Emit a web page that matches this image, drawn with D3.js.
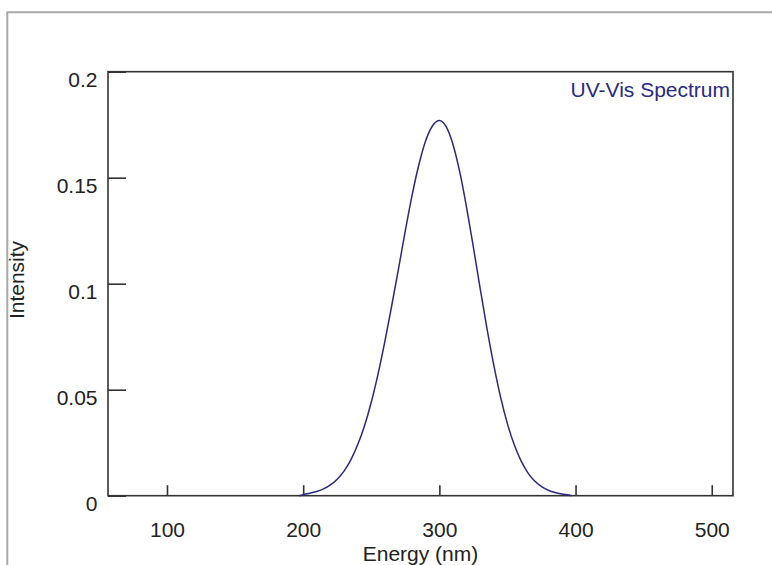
<!DOCTYPE html>
<html>
<head>
<meta charset="utf-8">
<script src="https://cdn.jsdelivr.net/npm/d3@7"></script>
<style>
  html, body { margin: 0; padding: 0; background: #fff; }
  svg { display: block; }
  text { font-family: "Liberation Sans", Arial, sans-serif; }
</style>
</head>
<body>
<svg id="chart" width="772" height="565"></svg>
<script>
// ---- data ----
const wavelength = [197, 200, 205, 210, 215, 220, 225, 230, 235, 240, 245, 250, 255, 260, 265, 270, 275, 280, 285, 290, 295, 300,
                    305, 310, 315, 320, 325, 330, 335, 340, 345, 350, 355, 360, 365, 370, 375, 380, 385, 390, 395, 397];
const intensity  = [0, 0.0005, 0.0012, 0.0020, 0.0032, 0.0051, 0.0078, 0.0116, 0.0169, 0.0240, 0.0329, 0.0441, 0.0575, 0.0728, 0.0896, 0.1070, 0.1250, 0.1418, 0.1562, 0.1675, 0.1745, 0.1770,
                    0.1741, 0.1657, 0.1526, 0.1359, 0.1171, 0.0976, 0.0787, 0.0615, 0.0464, 0.0339, 0.0240, 0.0164, 0.0108, 0.0069, 0.0043, 0.0026, 0.0015, 0.0008, 0.0003, 0];
const xTicks = [100, 200, 300, 400, 500];
const yTicks = [0, 0.05, 0.1, 0.15, 0.2];
const xDomain = [56.7, 515.6];
const yDomain = [0, 0.2];
const title = "UV-Vis Spectrum";
const xLabel = "Energy (nm)";
const yLabel = "Intensity";

const svg = d3.select("#chart");
const frame = {left: 108, right: 733, top: 71.7, bottom: 495.7};
const fontSize = "21px";

// outer gray border
svg.append("path")
  .attr("d", `M7.3,565 V12.3 H772`)
  .attr("fill", "none")
  .attr("stroke", "#a8a8a8")
  .attr("stroke-width", 2);

const x = d3.scaleLinear().domain(xDomain).range([frame.left, frame.right]);
const y = d3.scaleLinear().domain(yDomain).range([frame.bottom, frame.top]);

const axisColor = "#333";

// frame box
svg.append("rect")
  .attr("x", frame.left).attr("y", frame.top)
  .attr("width", frame.right - frame.left)
  .attr("height", frame.bottom - frame.top)
  .attr("fill", "none")
  .attr("stroke", axisColor)
  .attr("stroke-width", 1.6);

// x axis (ticks pointing inward)
const xAxis = d3.axisBottom(x).tickValues(xTicks).tickSizeInner(-10.5).tickSizeOuter(0).tickFormat(d3.format("d"));
const gx = svg.append("g").attr("transform", `translate(0,${frame.bottom})`).call(xAxis);
gx.select(".domain").remove();
gx.selectAll(".tick line").attr("stroke", axisColor).attr("stroke-width", 1.6);
gx.selectAll(".tick text")
  .attr("y", 41.5).attr("dy", 0)
  .attr("fill", "#222")
  .style("font-size", fontSize)
  .style("font-family", "'Liberation Sans', Arial, sans-serif");

// y axis (ticks pointing inward)
const yAxis = d3.axisLeft(y).tickValues(yTicks).tickSizeInner(-18).tickSizeOuter(0).tickFormat(d => d3.format("~g")(d));
const gy = svg.append("g").attr("transform", `translate(${frame.left},0)`).call(yAxis);
gy.select(".domain").remove();
gy.selectAll(".tick line").attr("stroke", axisColor).attr("stroke-width", 1.6);
gy.selectAll(".tick text")
  .attr("x", -10.5).attr("dy", 0).attr("y", 14.5)
  .attr("text-anchor", "end")
  .attr("fill", "#222")
  .style("font-size", fontSize)
  .style("font-family", "'Liberation Sans', Arial, sans-serif");

// spectrum line
const line = d3.line()
  .x((d, i) => x(wavelength[i]))
  .y((d, i) => y(intensity[i]))
  .curve(d3.curveMonotoneX);
svg.append("path")
  .datum(intensity)
  .attr("d", line)
  .attr("fill", "none")
  .attr("stroke", "#2a2a7c")
  .attr("stroke-width", 1.5);

// title inside plot
svg.append("text")
  .attr("x", 730).attr("y", 97)
  .attr("text-anchor", "end")
  .attr("fill", "#2a2a80")
  .style("font-size", fontSize)
  .text(title);

// axis labels
svg.append("text")
  .attr("x", (frame.left + frame.right) / 2).attr("y", 561)
  .attr("text-anchor", "middle")
  .attr("fill", "#222")
  .style("font-size", fontSize)
  .text(xLabel);

svg.append("text")
  .attr("transform", `translate(24,280) rotate(-90)`)
  .attr("text-anchor", "middle")
  .attr("fill", "#222")
  .style("font-size", fontSize)
  .text(yLabel);
</script>
</body>
</html>
